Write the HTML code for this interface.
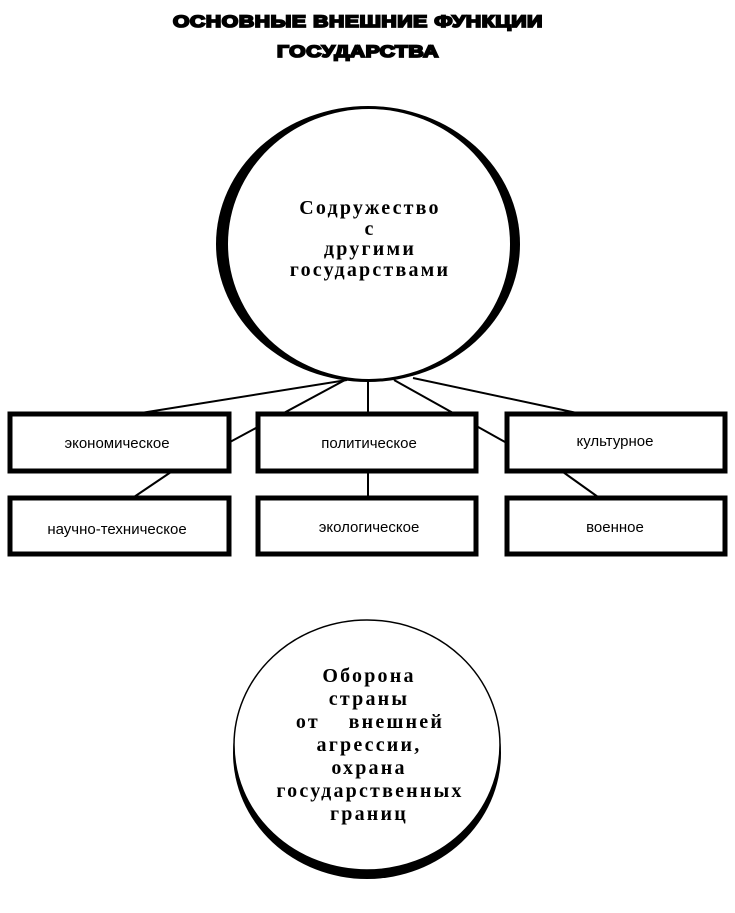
<!DOCTYPE html>
<html><head><meta charset="utf-8"><style>
body{margin:0;background:#fff;}
svg{display:block;}
.t{font-family:"Liberation Sans",sans-serif;font-weight:bold;font-size:17px;stroke:#000;stroke-width:1.8px;letter-spacing:0.5px;}
.c{font-family:"Liberation Serif",serif;font-weight:bold;font-size:20px;letter-spacing:2.2px;}
.b{font-family:"Liberation Sans",sans-serif;font-size:15px;}
</style></head><body>
<svg width="735" height="913" viewBox="0 0 735 913" xmlns="http://www.w3.org/2000/svg">
<text class="t" x="358" y="27" text-anchor="middle" textLength="370" lengthAdjust="spacingAndGlyphs">ОСНОВНЫЕ ВНЕШНИЕ ФУНКЦИИ</text>
<text class="t" x="358" y="57" text-anchor="middle" textLength="162" lengthAdjust="spacingAndGlyphs">ГОСУДАРСТВА</text>

<g stroke="#000" stroke-width="2" fill="none">
<line x1="347" y1="380" x2="141" y2="413"/>
<line x1="345" y1="380" x2="230" y2="442"/>
<line x1="368" y1="380" x2="368" y2="413"/>
<line x1="394" y1="380" x2="505" y2="442"/>
<line x1="413" y1="378" x2="577" y2="413"/>
<line x1="171" y1="472" x2="134" y2="497"/>
<line x1="368" y1="472" x2="368" y2="497"/>
<line x1="563" y1="472" x2="598" y2="497"/>
</g>

<ellipse cx="368" cy="244" rx="152" ry="138" fill="#000"/>
<ellipse cx="369" cy="244" rx="141" ry="135" fill="#fff"/>
<text class="c" x="370" y="214" text-anchor="middle">Содружество</text>
<text class="c" x="370" y="235" text-anchor="middle">с</text>
<text class="c" x="370" y="255" text-anchor="middle">другими</text>
<text class="c" x="370" y="276" text-anchor="middle">государствами</text>

<g fill="#fff" stroke="#000" stroke-width="5">
<rect x="10" y="414" width="219" height="57"/>
<rect x="258" y="414" width="218" height="57"/>
<rect x="507" y="414" width="218" height="57"/>
<rect x="10" y="498" width="219" height="56"/>
<rect x="258" y="498" width="218" height="56"/>
<rect x="507" y="498" width="218" height="56"/>
</g>
<g class="b" text-anchor="middle">
<text x="117" y="448">экономическое</text>
<text x="369" y="448">политическое</text>
<text x="615" y="446">культурное</text>
<text x="117" y="534">научно-техническое</text>
<text x="369" y="532">экологическое</text>
<text x="615" y="532">военное</text>
</g>

<ellipse cx="367" cy="753" rx="134" ry="126" fill="#000"/>
<ellipse cx="367" cy="745" rx="133" ry="125" fill="#fff" stroke="#000" stroke-width="1.5"/>
<text class="c" x="369" y="682" text-anchor="middle">Оборона</text>
<text class="c" x="369" y="705" text-anchor="middle">страны</text>
<text class="c" x="370" y="728" text-anchor="middle" xml:space="preserve">от    внешней</text>
<text class="c" x="369" y="751" text-anchor="middle">агрессии,</text>
<text class="c" x="369" y="774" text-anchor="middle">охрана</text>
<text class="c" x="370" y="797" text-anchor="middle">государственных</text>
<text class="c" x="369" y="820" text-anchor="middle">границ</text>
</svg>
</body></html>
